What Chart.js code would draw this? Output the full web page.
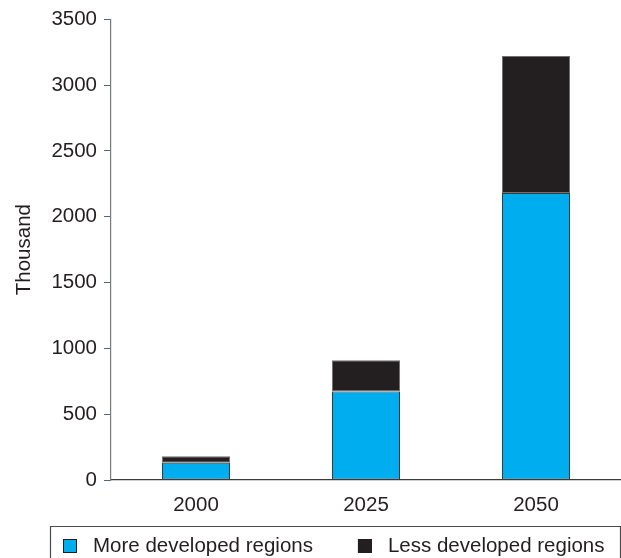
<!DOCTYPE html>
<html>
<head>
<meta charset="utf-8">
<script src="https://cdn.jsdelivr.net/npm/chart.js@4.4.0/dist/chart.umd.min.js"></script>
<style>
  html, body { margin: 0; padding: 0; background: #fff; }
  #wrap { width: 621px; height: 558px; position: relative; }
</style>
</head>
<body>
<div id="wrap"><canvas id="regionChart"></canvas></div>
<script>
// values (thousand)
const years = ['2000', '2025', '2050'];
const moreDeveloped = [132, 672, 2180];
const lessDeveloped = [49, 237, 1042];
const yTicks = [0, 500, 1000, 1500, 2000, 2500, 3000, 3500];

const FONT = '"Liberation Sans", Arial, Helvetica, sans-serif';
const FSIZE = 20.5;
const TEXT = '#231F20';

// legend drawn in a bordered box under the axis, like the original figure
const boxedLegend = {
    id: 'boxedLegend',
    afterDraw(chart) {
        const c = chart.ctx;
        const top = chart.chartArea.bottom + 46;
        c.save();
        c.strokeStyle = '#4a4a4a';
        c.lineWidth = 1.2;
        c.beginPath();
        c.moveTo(50.5, chart.height + 2);
        c.lineTo(50.5, top + 0.5);
        c.lineTo(620.5, top + 0.5);
        c.lineTo(620.5, chart.height + 2);
        c.stroke();

        c.font = FSIZE + 'px ' + FONT;
        c.textBaseline = 'middle';
        let x = 63;
        const midY = top + 20;
        chart.data.datasets.forEach(function(ds) {
            c.fillStyle = ds.backgroundColor;
            c.fillRect(x, midY - 7, 14, 14);
            c.strokeStyle = '#231F20';
            c.lineWidth = 1;
            c.strokeRect(x + 0.5, midY - 6.5, 13, 13);
            c.fillStyle = TEXT;
            c.fillText(ds.label, x + 30, midY);
            x += 30 + c.measureText(ds.label).width + 45;
        });
        c.restore();
    }
};

const ctx = document.getElementById('regionChart').getContext('2d');
const regionChart = new Chart(ctx, {
    type: 'bar',
    data: {
        labels: years,
        datasets: [{
            label: 'More developed regions',
            data: moreDeveloped,
            backgroundColor: '#00AEEF',
            borderColor: '#3b3b3b',
            borderWidth: 1,
            borderSkipped: false
        }, {
            label: 'Less developed regions',
            data: lessDeveloped,
            backgroundColor: '#231F20',
            borderColor: '#707070',
            borderWidth: 1,
            borderSkipped: false
        }]
    },
    options: {
        responsive: true,
        maintainAspectRatio: false,
        animation: false,
        layout: { padding: { top: 18, right: 0, bottom: 38, left: 0 } },
        categoryPercentage: 1,
        barPercentage: 0.4,
        plugins: {
            legend: { display: false },
            tooltip: { enabled: false }
        },
        scales: {
            x: {
                stacked: true,
                grid: { display: false, drawTicks: false },
                border: { display: true, color: '#3a3a3a', width: 1.2 },
                ticks: { color: TEXT, font: { family: FONT, size: FSIZE }, padding: 13 },
                afterFit: function(scale) { scale.height = 40; }
            },
            y: {
                stacked: true,
                min: 0,
                max: 3500,
                afterBuildTicks: function(scale) {
                    scale.ticks = yTicks.map(function(v) { return { value: v }; });
                },
                grid: { drawOnChartArea: false, drawTicks: true, tickLength: 7, color: '#4b6b78' },
                border: { display: true, color: '#7a7a7a', width: 1.2 },
                ticks: {
                    color: TEXT,
                    font: { family: FONT, size: FSIZE },
                    padding: 7,
                    callback: function(v) { return String(v); }
                },
                title: {
                    display: true,
                    text: 'Thousand',
                    color: TEXT,
                    font: { family: FONT, size: FSIZE },
                    padding: { top: 12, bottom: 0 }
                },
                afterFit: function(scale) { scale.width = 111; }
            }
        }
    },
    plugins: [boxedLegend]
});
</script>
</body>
</html>
